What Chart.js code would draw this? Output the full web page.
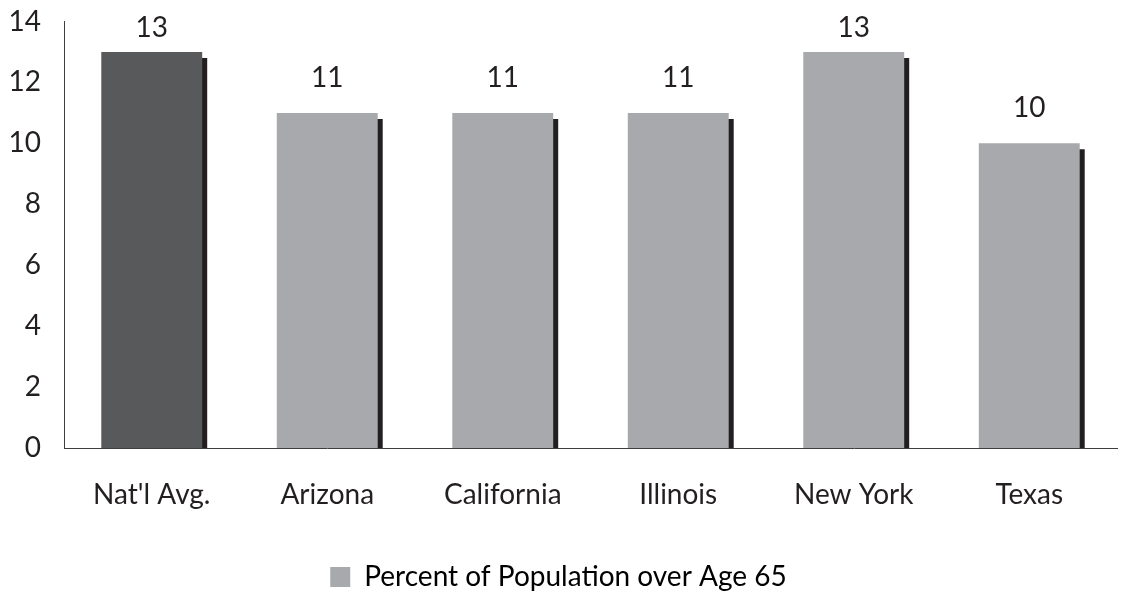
<!DOCTYPE html>
<html>
<head>
<meta charset="utf-8">
<script src="https://cdn.jsdelivr.net/npm/chart.js@4.4.1/dist/chart.umd.min.js"></script>
<style>
  html, body { margin: 0; padding: 0; background: #fff; }
  #wrap { width: 1122px; height: 591px; position: relative; }
</style>
</head>
<body>
<div id="wrap"><canvas id="bar-chart"></canvas></div>
<script>
var labelName = ["Nat'l Avg.", "Arizona", "California", "Illinois", "New York", "Texas"];
var seriesName = "Percent of Population over Age 65";
var dataset = [13, 11, 11, 11, 13, 10];
var barColors = ["#58595b", "#a7a9ac", "#a7a9ac", "#a7a9ac", "#a7a9ac", "#a7a9ac"];
var yTicks = [0, 2, 4, 6, 8, 10, 12, 14];

var textColor = "#231f20";
var fontFamily = "Lato, 'Open Sans', sans-serif";

// drop shadow behind the bars, like the original
var barShadow = {
  id: 'barShadow',
  beforeDatasetsDraw: function (chart) {
    var ctx = chart.ctx;
    ctx.save();
    ctx.shadowColor = "#231f20";
    ctx.shadowOffsetX = 5;
    ctx.shadowOffsetY = 6;
    ctx.shadowBlur = 0;
  },
  afterDatasetsDraw: function (chart) {
    var ctx = chart.ctx;
    ctx.restore();
    // value labels above bars
    var meta = chart.getDatasetMeta(0);
    ctx.save();
    ctx.fillStyle = textColor;
    ctx.font = "28px " + fontFamily;
    ctx.textAlign = "center";
    ctx.textBaseline = "middle";
    meta.data.forEach(function (bar, i) {
      var y = Math.max(bar.y - 35, chart.chartArea.top + 6);
      ctx.fillText(String(dataset[i]), bar.x, y);
    });
    ctx.restore();
  }
};

new Chart(document.getElementById("bar-chart"), {
  type: 'bar',
  data: {
    labels: labelName,
    datasets: [
      {
        label: seriesName,
        backgroundColor: barColors,
        data: dataset,
        barPercentage: 0.575,
        categoryPercentage: 1,
        borderWidth: 0,
        clip: 0
      }
    ]
  },
  plugins: [barShadow],
  options: {
    responsive: true,
    maintainAspectRatio: false,
    animation: false,
    layout: { padding: { top: 21.5, right: 5, left: 0, bottom: -10 } },
    plugins: {
      tooltip: { enabled: false },
      legend: {
        display: true,
        position: 'bottom',
        labels: {
          color: textColor,
          font: { family: fontFamily, size: 28 },
          boxWidth: 20,
          boxHeight: 20,
          padding: 0,
          generateLabels: function () {
            return [{ text: seriesName, fillStyle: "#a7a9ac", strokeStyle: "#a7a9ac", lineWidth: 0, hidden: false, datasetIndex: 0 }];
          }
        }
      }
    },
    scales: {
      x: {
        z: 1,
        afterFit: function (scale) { scale.height = 115; },
        grid: { display: false, drawTicks: false },
        border: { display: true, color: "#3f3f3f", width: 1 },
        ticks: { color: textColor, font: { family: fontFamily, size: 28 }, padding: 30, maxRotation: 0 }
      },
      y: {
        min: 0,
        max: 14,
        afterFit: function (scale) {
          scale.width = 64;
          scale.paddingTop = 0;
          scale.paddingBottom = 0;
        },
        afterBuildTicks: function (scale) {
          scale.ticks = yTicks.map(function (v) { return { value: v }; });
        },
        grid: { display: false, drawTicks: false },
        border: { display: true, color: "#3f3f3f", width: 1 },
        ticks: { color: textColor, font: { family: fontFamily, size: 28 }, padding: 23 }
      }
    }
  }
});
</script>
</body>
</html>
